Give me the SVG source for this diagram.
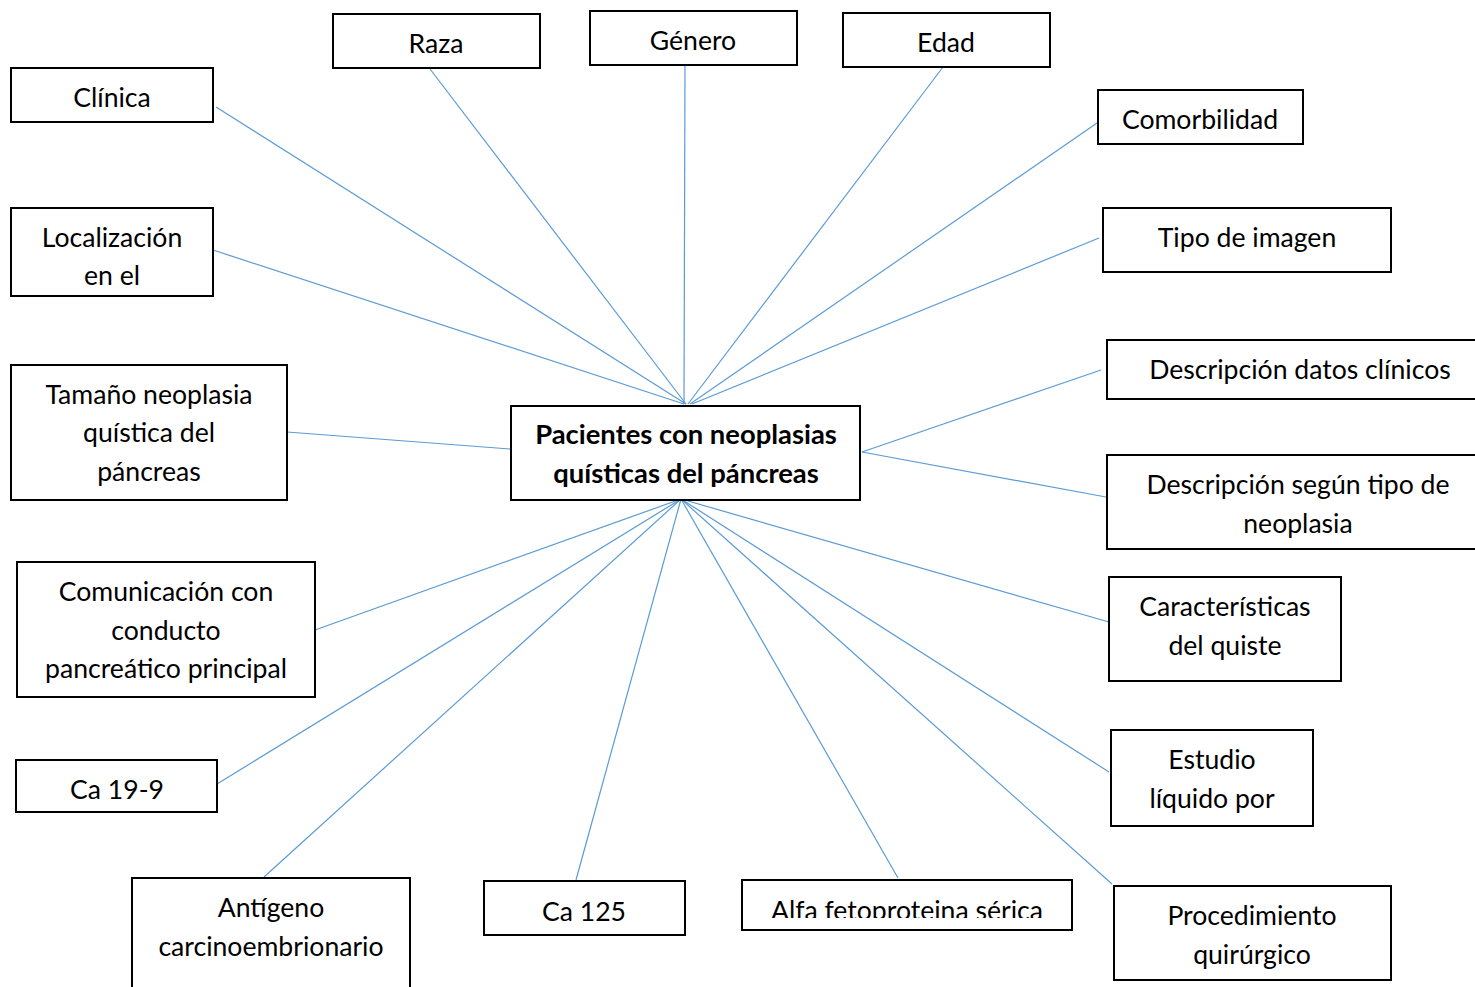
<svg xmlns="http://www.w3.org/2000/svg" width="1475" height="987" viewBox="0 0 1475 987">
<style>
rect.b{fill:#fff;stroke:#000;stroke-width:2}
text{font-family:Lato,"Liberation Sans",sans-serif;font-size:26.6px;fill:#000;text-anchor:middle}
text.c{font-weight:bold;font-size:27.4px}
#connectors line{stroke:#5B9BD5;stroke-width:1.2}
</style>
<defs><clipPath id="alfaclip"><rect x="742" y="880" width="330" height="38"/></clipPath></defs>
<rect width="1475" height="987" fill="#fff"/>
<g id="connectors">
<line x1="216" y1="107" x2="686" y2="404"/>
<line x1="430" y1="69" x2="686" y2="404"/>
<line x1="685" y1="66" x2="684" y2="404"/>
<line x1="943" y1="67" x2="688" y2="404"/>
<line x1="1097" y1="123" x2="690" y2="404"/>
<line x1="1099" y1="238" x2="692" y2="404"/>
<line x1="213" y1="250" x2="684" y2="404"/>
<line x1="287" y1="432" x2="510" y2="449"/>
<line x1="1101" y1="370" x2="862" y2="452"/>
<line x1="1106" y1="497" x2="862" y2="452"/>
<line x1="315" y1="630" x2="681" y2="499"/>
<line x1="217" y1="784" x2="681" y2="499"/>
<line x1="264" y1="877" x2="681" y2="499"/>
<line x1="576" y1="880" x2="681" y2="499"/>
<line x1="898" y1="878" x2="681" y2="499"/>
<line x1="1109" y1="622" x2="681" y2="499"/>
<line x1="1109" y1="772" x2="681" y2="499"/>
<line x1="1112" y1="884" x2="681" y2="499"/>
</g>
<g id="raza"><rect class="b" x="333" y="14" width="207" height="54"/><text x="436" y="53">Raza</text></g>
<g id="genero"><rect class="b" x="590" y="11" width="207" height="54"/><text x="693" y="50">Género</text></g>
<g id="edad"><rect class="b" x="843" y="13" width="207" height="54"/><text x="946" y="52">Edad</text></g>
<g id="clinica"><rect class="b" x="11" y="68" width="202" height="54"/><text x="112" y="107">Clínica</text></g>
<g id="comorbilidad"><rect class="b" x="1098" y="90" width="205" height="54"/><text x="1200" y="129">Comorbilidad</text></g>
<g id="localizacion"><rect class="b" x="11" y="208" width="202" height="88"/><text x="112" y="247">Localización</text><text x="112" y="285">en el</text></g>
<g id="tipo-imagen"><rect class="b" x="1103" y="208" width="288" height="64"/><text x="1247" y="247">Tipo de imagen</text></g>
<g id="tamano"><rect class="b" x="11" y="365" width="276" height="135"/><text x="149" y="404">Tamaño neoplasia</text><text x="149" y="442">quística del</text><text x="149" y="481">páncreas</text></g>
<g id="center"><rect class="b" x="511" y="406" width="349" height="94"/><text class="c" x="686" y="444">Pacientes con neoplasias</text><text class="c" x="686" y="483">quísticas del páncreas</text></g>
<g id="desc-datos"><rect class="b" x="1107" y="340" width="380" height="59"/><text x="1300" y="379">Descripción datos clínicos</text></g>
<g id="desc-tipo"><rect class="b" x="1107" y="455" width="380" height="94"/><text x="1298" y="494">Descripción según tipo de</text><text x="1298" y="533">neoplasia</text></g>
<g id="comunicacion"><rect class="b" x="17" y="562" width="298" height="135"/><text x="166" y="601">Comunicación con</text><text x="166" y="640">conducto</text><text x="166" y="678">pancreático principal</text></g>
<g id="caracteristicas"><rect class="b" x="1109" y="577" width="232" height="104"/><text x="1225" y="616">Características</text><text x="1225" y="655">del quiste</text></g>
<g id="ca199"><rect class="b" x="16" y="760" width="201" height="52"/><text x="117" y="799">Ca 19-9</text></g>
<g id="estudio"><rect class="b" x="1111" y="730" width="202" height="96"/><text x="1212" y="769">Estudio</text><text x="1212" y="808">líquido por</text></g>
<g id="antigeno"><rect class="b" x="132" y="878" width="278" height="120"/><text x="271" y="917">Antígeno</text><text x="271" y="956">carcinoembrionario</text></g>
<g id="ca125"><rect class="b" x="484" y="881" width="201" height="54"/><text x="584" y="921">Ca 125</text></g>
<g id="alfa"><rect class="b" x="742" y="880" width="330" height="50"/><text x="907" y="920" clip-path="url(#alfaclip)">Alfa fetoproteina sérica</text></g>
<g id="procedimiento"><rect class="b" x="1114" y="886" width="277" height="94"/><text x="1252" y="925">Procedimiento</text><text x="1252" y="964">quirúrgico</text></g>
</svg>
